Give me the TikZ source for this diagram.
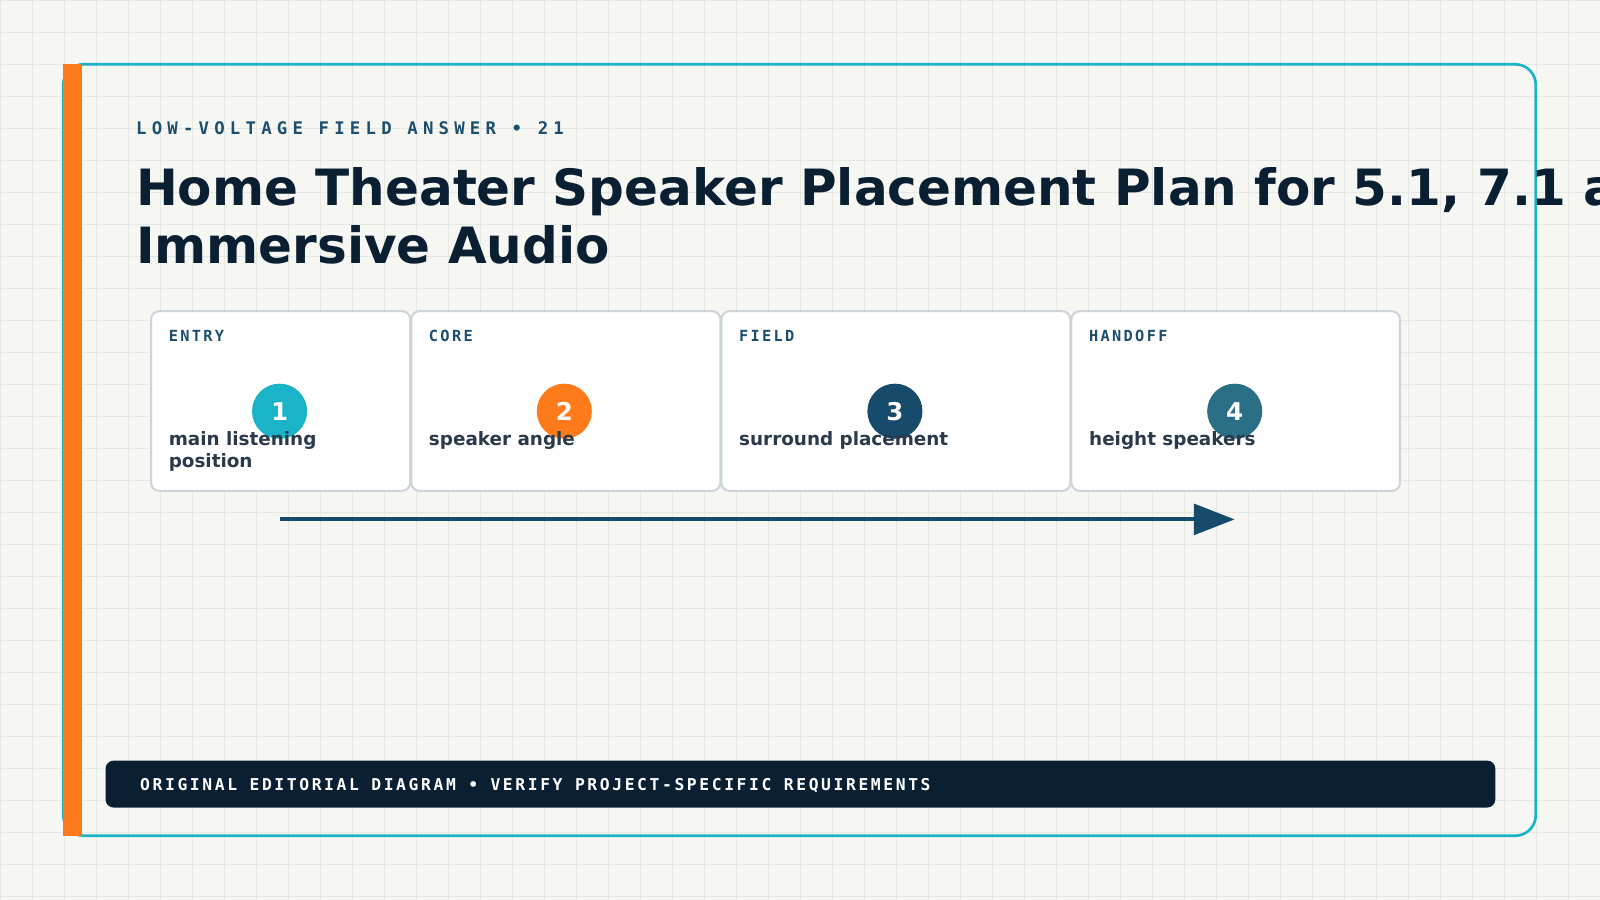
\documentclass[tikz,border=0pt]{standalone}
\usepackage{fontspec}
\setmainfont{DejaVu Sans}
\setmonofont{DejaVu Sans Mono}
\usetikzlibrary{arrows.meta}
\definecolor{bg}{HTML}{F6F6F2}
\definecolor{gridc}{HTML}{E6E9E3}
\definecolor{teal}{HTML}{1AB3C8}
\definecolor{orng}{HTML}{FF7A1A}
\definecolor{navy}{HTML}{0B1F33}
\definecolor{blue}{HTML}{1B4F6E}
\definecolor{dkb}{HTML}{174B6B}
\definecolor{stl}{HTML}{2B6F87}
\definecolor{bodyc}{HTML}{2B3A4A}
\definecolor{cardb}{HTML}{CDD5D8}
\tikzset{
  card/.style={draw=cardb,line width=1pt,fill=white,rounded corners=4pt},
  lab/.style={anchor=base west,inner sep=0,font=\ttfamily\bfseries\fontsize{7.5}{9}\selectfont\addfontfeature{LetterSpace=15},text=blue},
  body/.style={anchor=base west,inner sep=0,font=\bfseries\fontsize{9}{10.5}\selectfont,text=bodyc,align=left},
  num/.style={circle,minimum size=27pt,inner sep=0,text=white,font=\bfseries\fontsize{12}{12}\selectfont},
}
\begin{document}
\begin{tikzpicture}[x=0.5pt,y=-0.5pt]
\useasboundingbox (0,0) rectangle (1568,882);
\fill[bg] (0,0) rectangle (1568,882);
\foreach \i in {0,...,50}{\draw[gridc,line width=0.4pt] (\i*31.36,0) -- (\i*31.36,882);}
\foreach \j in {0,...,28}{\draw[gridc,line width=0.4pt] (0,\j*31.36) -- (1568,\j*31.36);}
\draw[teal,line width=1.3pt,rounded corners=10pt] (62,63) rectangle (1505,819);
\fill[orng] (62,63) rectangle (80,819);
\node[anchor=base west,inner sep=0,font=\ttfamily\bfseries\fontsize{8.5}{10}\selectfont\addfontfeature{LetterSpace=30},text=blue] (kick) at (133,132) {LOW-VOLTAGE FIELD ANSWER • 21};
\node[anchor=base west,inner sep=0,font=\bfseries\fontsize{24.5}{28.5}\selectfont,text=navy,align=left] (title) at (133,258) {Home Theater Speaker Placement Plan for 5.1, 7.1 and\\Immersive Audio};
\node[card,minimum width=127pt,minimum height=88pt,anchor=north west] (c1) at (147,304) {};
\node[card,minimum width=151.5pt,minimum height=88pt,anchor=north west] (c2) at (402,304) {};
\node[card,minimum width=171pt,minimum height=88pt,anchor=north west] (c3) at (706,304) {};
\node[card,minimum width=161pt,minimum height=88pt,anchor=north west] (c4) at (1049,304) {};
\node[lab] (l1) at (165,335) {ENTRY};
\node[lab] (l2) at (420,335) {CORE};
\node[lab] (l3) at (724,335) {FIELD};
\node[lab] (l4) at (1067,335) {HANDOFF};
\node[num,fill=teal] (n1) at (274,403) {1};
\node[num,fill=orng] (n2) at (553,403) {2};
\node[num,fill=dkb] (n3) at (877,403) {3};
\node[num,fill=stl] (n4) at (1210,403) {4};
\node[body] (b1) at (165,458) {main listening\\position};
\node[body] (b2) at (420,437) {speaker angle};
\node[body] (b3) at (724,437) {surround placement};
\node[body] (b4) at (1067,437) {height speakers};
\coordinate (a1) at (274,509);
\coordinate (a2) at (1210,509);
\draw[dkb,line width=2pt,-{Triangle[length=20pt,width=15pt]}] (a1) -- (a2);
\node[fill=navy,rounded corners=4pt,minimum width=681pt,minimum height=23pt,anchor=north west,inner sep=0] (foot) at (103,745) {};
\node[anchor=base west,inner sep=0,font=\ttfamily\bfseries\fontsize{8}{10}\selectfont\addfontfeature{LetterSpace=16},text=white] (ft) at (137,775) {ORIGINAL EDITORIAL DIAGRAM • VERIFY PROJECT-SPECIFIC REQUIREMENTS};
\end{tikzpicture}
\end{document}
